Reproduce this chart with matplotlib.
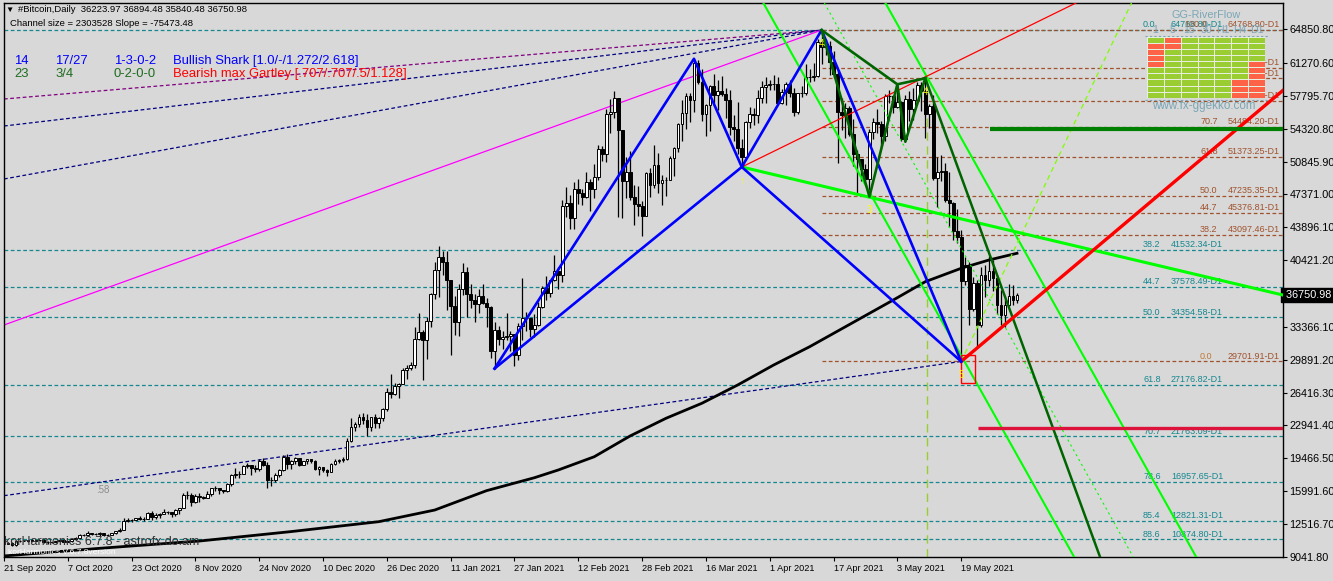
import numpy as np
import pandas as pd
import matplotlib
matplotlib.use('Agg')
import matplotlib.pyplot as plt
import matplotlib.transforms as mtransforms
from matplotlib.colors import ListedColormap
from matplotlib.lines import Line2D

plt.rcParams['font.family'] = ['Liberation Sans', 'DejaVu Sans']

# ==========  daily candles (thousands of USD), 21 Sep 2020 -> 2 Jun 2021
start_date = '2020-09-21'
first_open = 11.08
closes = [
    10.42, 10.53, 10.24, 10.74, 10.69, 10.73, 10.77, 10.69, 10.84, 10.78,
    10.62, 10.57, 10.55, 10.67, 10.79, 10.60, 10.67, 10.92, 11.06, 11.30,
    11.38, 11.55, 11.43, 11.43, 11.50, 11.32, 11.37, 11.50, 11.75, 11.92,
    12.82, 12.97, 12.93, 13.11, 13.03, 13.07, 13.64, 13.27, 13.46, 13.56, 13.80,
    13.74, 13.55, 14.02, 14.15, 15.59, 15.58, 14.83, 15.48, 15.33, 15.30,
    15.70, 16.28, 16.32, 16.07, 15.96, 16.72, 17.65, 17.80, 17.82, 18.68,
    18.70, 18.41, 18.37, 19.16, 18.72, 17.15, 17.14, 17.72, 18.18, 19.63,
    18.80, 19.20, 19.45, 18.70, 19.15, 19.36, 19.17, 18.32, 18.55, 18.26,
    18.04, 18.80, 19.14, 19.25, 19.43, 21.30, 22.80, 23.13, 23.85, 23.48,
    22.75, 23.82, 23.24, 23.73, 24.71, 26.44, 26.27, 27.08, 27.36, 28.84, 29.00,
    29.37, 32.13, 32.78, 31.97, 33.99, 36.82, 39.37, 40.80, 40.25, 38.35,
    35.54, 33.92, 37.32, 39.19, 36.83, 36.18, 35.79, 36.63, 35.89, 35.47,
    30.83, 33.00, 32.08, 32.28, 32.37, 32.57, 30.43, 33.47, 34.32, 34.27, 33.11,
    33.52, 35.51, 37.47, 36.93, 38.29, 39.26, 38.90, 46.20, 46.48, 44.92,
    47.91, 47.50, 47.10, 48.72, 47.94, 49.20, 52.15, 51.68, 55.89, 56.10,
    57.54, 54.21, 48.82, 49.71, 47.08, 46.34, 46.19, 45.14,
    49.63, 48.38, 50.54, 48.56, 48.93, 48.91, 51.21, 52.30, 54.88, 55.96,
    57.80, 57.33, 61.24, 59.30, 55.91, 56.80, 58.87, 57.86, 58.35, 58.03,
    57.35, 54.53, 54.34, 52.30, 51.30, 55.03, 55.86, 55.78, 57.63, 58.73, 58.92,
    59.10, 59.03, 57.10, 58.20, 59.10, 58.13, 56.05, 58.10, 58.13, 59.77,
    59.80, 59.89, 63.50, 62.97, 63.11, 61.38, 60.10, 56.15, 55.75, 56.50,
    53.80, 51.70, 51.09, 50.05, 49.00, 54.02, 55.03, 54.82, 53.56, 57.75,
    57.83, 56.63, 57.21, 53.24, 57.47, 56.43, 57.38, 58.93, 58.28, 55.86,
    56.75, 49.15, 49.72, 49.88, 46.76, 46.43, 43.54, 42.91,
    38.20, 39.90, 35.30, 38.00, 33.60, 38.80, 38.30, 39.30, 38.50, 35.70,
    34.60, 35.70, 36.60, 36.22397, 36.75098,
]
highs = [
    11.10, 10.58, 10.55, 10.77, 10.76, 10.79, 10.80, 10.95, 10.86, 10.85,
    10.92, 10.67, 10.60, 10.70, 10.80, 10.80, 10.68, 10.95, 11.10, 11.49,
    11.43, 11.72, 11.56, 11.55, 11.63, 11.54, 11.40, 11.50, 11.80, 12.03,
    13.18, 13.16, 13.02, 13.16, 13.34, 13.24, 13.76, 13.86, 13.63, 13.66, 14.07,
    13.86, 13.81, 14.07, 14.23, 15.75, 15.96, 15.77, 15.65, 15.83, 15.48,
    15.96, 16.34, 16.48, 16.33, 16.15, 16.80, 17.80, 18.39, 18.11, 18.79,
    18.95, 18.75, 18.77, 19.42, 19.48, 19.06, 17.46, 17.88, 18.30, 19.77,
    19.92, 19.31, 19.56, 19.52, 19.17, 19.41, 19.42, 19.29, 18.64, 18.56,
    18.27, 18.95, 19.41, 19.34, 19.56, 21.56, 23.77, 23.26, 24.17, 24.30,
    24.10, 23.84, 24.09, 23.79, 24.79, 26.87, 28.42, 27.41, 27.37, 28.99, 29.30,
    29.60, 33.30, 34.78, 33.00, 34.44, 36.94, 40.18, 41.95, 41.35, 41.42,
    38.26, 36.60, 37.85, 40.10, 39.70, 37.95, 36.85, 37.40, 37.85, 36.42,
    35.60, 33.83, 33.45, 32.94, 34.88, 32.97, 32.55, 33.78, 38.53, 34.93, 34.34,
    34.72, 35.98, 37.66, 38.70, 38.31, 40.95, 39.70, 46.80, 48.20, 47.30,
    48.68, 48.97, 48.00, 49.70, 49.00, 50.60, 52.62, 52.53, 56.37, 57.50,
    58.35, 57.53, 54.20, 51.35, 52.00, 48.37, 48.30, 46.64,
    49.80, 50.20, 52.64, 51.80, 49.45, 49.20, 51.45, 52.40, 54.90, 57.40,
    58.15, 58.06, 61.73, 61.60, 60.65, 56.90, 58.98, 60.10, 59.45, 59.88,
    58.59, 58.42, 55.83, 57.20, 53.23, 55.10, 56.58, 56.56, 58.40, 59.37, 59.80,
    59.47, 60.05, 59.80, 58.50, 59.25, 59.50, 58.65, 58.15, 58.90, 61.20,
    60.68, 61.30, 63.80, 64.77, 63.80, 63.60, 62.60, 60.40, 57.60, 57.05,
    56.75, 55.41, 52.12, 51.17, 50.55, 54.35, 55.46, 56.43, 55.20, 58.00,
    58.46, 57.95, 59.03, 57.25, 57.94, 58.36, 58.65, 59.30, 59.25, 59.67,
    56.90, 57.95, 51.30, 51.55, 50.70, 49.70, 46.60, 45.82,
    43.60, 40.80, 40.20, 38.60, 38.30, 39.70, 39.90, 40.90, 40.40, 38.90,
    37.30, 36.30, 37.90, 37.80, 36.89448,
]
lows = [
    10.36, 10.37, 10.15, 10.22, 10.60, 10.67, 10.64, 10.66, 10.66, 10.67,
    10.45, 10.37, 10.50, 10.49, 10.64, 10.55, 10.58, 10.64, 10.82, 11.01,
    11.22, 11.25, 11.31, 11.29, 11.27, 11.22, 11.30, 11.35, 11.40, 11.69,
    11.90, 12.68, 12.73, 12.90, 12.91, 12.80, 13.05, 12.94, 12.99, 13.12, 13.64,
    13.61, 13.22, 13.30, 13.55, 14.15, 15.20, 14.42, 14.70, 14.85, 15.10,
    15.30, 15.44, 15.99, 15.72, 15.80, 15.87, 16.53, 17.34, 17.40, 17.76,
    18.38, 17.66, 18.03, 18.08, 18.62, 16.33, 16.50, 16.90, 17.50, 18.13,
    18.33, 18.33, 18.86, 18.59, 18.70, 18.89, 19.00, 18.20, 17.65, 18.03,
    17.57, 18.00, 18.73, 19.00, 19.05, 19.27, 21.22, 22.35, 22.75, 23.07,
    21.82, 22.35, 22.62, 22.70, 23.43, 24.50, 25.80, 26.10, 25.82, 27.32, 27.85,
    28.80, 29.00, 32.00, 27.73, 30.00, 33.40, 36.30, 36.50, 38.80, 35.11,
    30.42, 32.53, 32.38, 36.70, 34.40, 35.36, 33.85, 34.80, 35.80, 33.40,
    30.07, 28.95, 31.42, 31.00, 31.98, 30.83, 29.24, 29.85, 31.98, 32.88, 32.30,
    32.28, 33.42, 35.39, 36.16, 36.57, 38.20, 37.35, 38.06, 45.00, 43.73,
    43.70, 46.40, 46.30, 47.00, 45.60, 47.00, 48.95, 50.90, 50.80, 53.90,
    55.48, 45.00, 44.90, 47.00, 46.80, 44.15, 45.07, 43.00,
    45.12, 47.07, 48.10, 47.50, 46.30, 47.20, 48.90, 49.30, 51.84, 53.05,
    54.27, 55.04, 56.10, 59.04, 55.12, 53.55, 54.10, 57.02, 56.28, 57.80,
    55.45, 53.65, 53.00, 51.70, 50.28, 51.30, 54.45, 54.70, 54.90, 57.05, 57.00,
    58.42, 58.45, 57.00, 56.96, 56.80, 57.65, 55.70, 55.90, 57.70, 57.90,
    59.30, 59.40, 59.80, 61.20, 62.10, 60.00, 59.70, 50.70, 54.20, 53.40,
    53.60, 50.40, 47.50, 48.80, 48.75, 47.10, 53.22, 53.88, 52.33, 53.02,
    57.05, 56.04, 56.48, 53.00, 52.96, 55.20, 55.25, 56.90, 56.24, 53.40,
    54.40, 48.90, 46.00, 48.80, 46.60, 43.90, 42.60, 42.25,
    29.70191, 37.80, 33.60, 35.00, 31.20, 33.40, 36.50, 37.70, 37.20, 34.70,
    33.60, 33.40, 35.60, 35.70, 35.84048,
]

# moving average
ma_days = [0, 24, 49, 72, 94, 108, 121, 133, 139, 148, 157, 166, 175, 184,
           193, 202, 211, 223, 231, 240, 247, 254]
ma_vals = [9120, 9930, 10700, 11700, 12750, 13980, 16030, 17400, 18220, 19620,
           21820, 23690, 25280, 27220, 29330, 31260, 33380, 36210, 38140,
           39560, 40440, 41150]

# harmonic patterns: X, A, B, C, D as (day index, price)
shark_days = [123, 173, 185, 205, 240]
shark_prices = [28950, 61730, 50280, 64768.80, 29701.91]
gartley_days = [205, 217, 224, 226, 231]
gartley_prices = [64768.80, 47140, 59030, 52960, 59670]

# fibonacci levels
teal_levels = [0.0, 38.2, 44.7, 50.0, 61.8, 70.7, 78.6, 85.4, 88.6]
teal_prices = [64768.80, 41532.34, 37578.49, 34354.58, 27176.82, 21763.09,
               16957.65, 12821.31, 10874.80]
brown_levels = [0.0, 38.2, 44.7, 50.0, 61.8, 70.7, 78.6, 85.4, 88.6, 100.0]
brown_prices = [29701.91, 43097.46, 45376.81, 47235.35, 51373.25, 54484.20,
                57264.49, 59649.03, 60771.17, 64768.80]

# trend lines (day, price) pairs
magenta_line = [(0, 33560), (205, 64768.80)]
purple_line = [(0, 57475), (205, 64768.80)]
navy_lines = [[(0, 54617), (205, 64768.80)], [(0, 49009), (205, 64768.80)]]
navy_low_line = [(0, 15500), (240, 29701.91)]
lime_a = [(190.4, 67640), (268.3, 9041.8)]
lime_b = [(221.0, 67640), (298.9, 9041.8)]
lime_dotted = [(205.7, 67640), (283.1, 9041.8)]
chartreuse_dashed = [(240, 29701.91), (282.7, 67640)]
green_thick = [(185, 50280), (321, 36700)]
red_thin = [(185, 50280), (268.8, 67640)]
red_thick = [(240, 29701.91), (321, 58500)]
darkgreen_proj = [(231, 59670), (274.8, 9041.8)]
crimson_level = (244.3, 22690)
green_level = (247.3, 54280)
prz_box = (240, 27430, 243.4, 30390)

yticks_vals = [9041.80, 12516.70, 15991.60, 19466.50, 22941.40, 26416.30,
               29891.20, 33366.10, 40421.20, 43896.10, 47371.00, 50845.90,
               54320.80, 57795.70, 61270.60, 64850.80]

# RiverFlow grid: columns 1 5 15 30 H1 H4 D1, 1 = red cell
rf_cols = ['1', '5', '15', '30', 'H1', 'H4', 'D1']
rf_state = [
    [0, 1, 0, 0, 0, 0, 0],
    [1, 1, 0, 0, 0, 0, 0],
    [1, 0, 0, 0, 0, 0, 0],
    [1, 0, 0, 0, 0, 0, 0],
    [1, 0, 0, 0, 0, 0, 1],
    [0, 0, 0, 0, 0, 0, 1],
    [0, 0, 0, 0, 0, 0, 1],
    [0, 0, 0, 0, 0, 1, 1],
    [0, 0, 0, 0, 0, 1, 1],
    [0, 0, 0, 0, 0, 1, 1],
]

# ==========
W, H = 1333, 581
BG = '#d8d8d8'
TEAL = '#14878f'
BROWN = '#a0522d'

closes_a = np.array(closes) * 1000
highs_a = np.array(highs) * 1000
lows_a = np.array(lows) * 1000
opens_a = np.array([first_open] + closes[:-1]) * 1000
highs_a = np.maximum(highs_a, np.maximum(opens_a, closes_a))
lows_a = np.minimum(lows_a, np.minimum(opens_a, closes_a))
days = np.arange(len(closes_a))
dates = pd.date_range(start_date, periods=len(closes_a), freq='D')

fig = plt.figure(figsize=(W / 100, H / 100), dpi=100, facecolor=BG)
ax = fig.add_axes([4 / W, 1 - 556.7 / H, 1279 / W, 553.7 / H], facecolor=BG)
XMIN, XMAX = 0.15, 320.7
YMIN, YMAX = 9041.8, 67634
ax.set_xlim(XMIN, XMAX)
ax.set_ylim(YMIN, YMAX)


def fpx(x, y):
    return x / W, 1 - y / H


# === fib levels
for lvl, p in zip(teal_levels, teal_prices):
    ax.axhline(p, color=TEAL, lw=0.9, ls=(0, (3, 2)), zorder=1)
    ax.annotate(f'{lvl:.1f}', (285.6, p), xytext=(0, 0.6), textcoords='offset points',
                color=TEAL, fontsize=6.5, va='bottom', ha='left')
    ax.annotate(f'{p:.2f}-D1', (292.6, p), xytext=(0, 0.6), textcoords='offset points',
                color=TEAL, fontsize=6.5, va='bottom', ha='left')
for lvl, p in zip(brown_levels, brown_prices):
    ax.hlines(p, shark_days[3], XMAX, color=BROWN, lw=0.9, ls=(0, (3, 2)), zorder=1)
    lx = 299.9 if lvl < 100 else 296.0
    ax.annotate(f'{lvl:.1f}', (lx, p), xytext=(0, 0.6), textcoords='offset points',
                color='#c07838' if lvl == 0 else BROWN, fontsize=6.5, va='bottom', ha='left')
    ax.annotate(f'{p:.2f}-D1', (306.9, p), xytext=(0, 0.6), textcoords='offset points',
                color=BROWN, fontsize=6.5, va='bottom', ha='left')

# === long dashed fans to the April top
for (x0, y0), (x1, y1) in [purple_line]:
    ax.plot([x0, x1], [y0, y1], color='#800080', lw=0.9, ls=(0, (3, 2)), zorder=2)
for (x0, y0), (x1, y1) in navy_lines + [navy_low_line]:
    ax.plot([x0, x1], [y0, y1], color='#000080', lw=0.9, ls=(0, (3, 2)), zorder=2)
ax.plot(*zip(*magenta_line), color='#ff00ff', lw=0.9, zorder=2)
ax.text(23.0, 16100, '.58', color='#8c8c8c', fontsize=7, ha='left', va='center')

# === candles
up = closes_a >= opens_a
ax.vlines(days, lows_a, highs_a, color='black', lw=0.9, zorder=3)
ax.bar(days[up], closes_a[up] - opens_a[up], bottom=opens_a[up], width=0.7,
       color='white', edgecolor='black', linewidth=0.7, zorder=4)
ax.bar(days[~up], closes_a[~up] - opens_a[~up], bottom=opens_a[~up], width=0.7,
       color='black', edgecolor='black', linewidth=0.7, zorder=4)

# === moving average
ax.plot(ma_days, ma_vals, color='black', lw=2, zorder=5, solid_joinstyle='round')

# === channels and trend lines
ax.vlines(231.5, YMIN, gartley_prices[4], colors='#9acd32', lw=1, linestyles=(0, (6, 4)), zorder=2)
ax.plot(*zip(*lime_a), color='#00ff00', lw=1.5, zorder=6)
ax.plot(*zip(*lime_b), color='#00ff00', lw=1.5, zorder=6)
ax.plot(*zip(*lime_dotted), color='#00ff00', lw=0.8, ls=(0, (2, 3)), zorder=6)
ax.plot(*zip(*chartreuse_dashed), color='#7fff00', lw=0.9, ls=(0, (4, 3)), zorder=6)
ax.plot(*zip(*green_thick), color='#00ff00', lw=2.2, zorder=6)
ax.plot(*zip(*red_thin), color='#ff0000', lw=0.9, zorder=6)
ax.plot(*zip(*red_thick), color='#ff0000', lw=2.4, zorder=7)
ax.plot(*zip(*darkgreen_proj), color='#006400', lw=1.8, zorder=6)
ax.hlines(crimson_level[1], crimson_level[0], XMAX, color='#dc143c', lw=2.4, zorder=7)
ax.hlines(green_level[1], green_level[0], XMAX, color='#008000', lw=3, zorder=7)
bx0, by0, bx1, by1 = prz_box
ax.add_patch(plt.Rectangle((bx0, by0), bx1 - bx0, by1 - by0, fill=False,
                           edgecolor='#ff0000', lw=1, zorder=7))

# === harmonic patterns
sx, sp = shark_days, shark_prices
ax.plot(sx, sp, color='#0000ff', lw=1.9, zorder=8)
ax.plot([sx[0], sx[2], sx[4]], [sp[0], sp[2], sp[4]], color='#0000ff', lw=1.9, zorder=8)
gx, gp = gartley_days, gartley_prices
ax.plot(gx, gp, color='#006400', lw=1.9, zorder=8)
ax.plot([gx[0], gx[2], gx[4]], [gp[0], gp[2], gp[4]], color='#006400', lw=1.9, zorder=8)
for x, p, s in [(sx[2], sp[2] - 900, '\u2191'), (sx[3], sp[3] - 900, '4'),
                (gx[1], gp[1] - 900, '3'), (gx[4], gp[4] - 900, '4'), (sx[4], sp[4] - 900, '5')]:
    ax.text(x, p, s, color='yellow', fontsize=7, ha='center', va='top', zorder=9)

# === axes cosmetics
for sp_ in ax.spines.values():
    sp_.set_color('black')
    sp_.set_linewidth(1)
ax.yaxis.tick_right()
ax.set_yticks(yticks_vals)
ax.set_yticklabels([f'{v:.2f}' for v in yticks_vals])
ax.tick_params(axis='y', direction='out', length=3, pad=1.5, labelsize=7.8, width=0.8)
xt = list(range(0, len(dates), 16))
ax.set_xticks(xt)
ax.set_xticklabels([f'{dates[i].day} {dates[i].strftime("%b %Y")}' for i in xt],
                   ha='left', fontsize=6.6)
ax.tick_params(axis='x', direction='out', length=3, pad=2.5, width=0.8)

last = closes_a[-1]
tr = mtransforms.blended_transform_factory(ax.transAxes, ax.transData)
ax.text(1.0, last, f' {last:.2f}', transform=tr, ha='left', va='center', color='white',
        fontsize=7.8, bbox=dict(boxstyle='square,pad=0.18', fc='black', ec='black'))

# === header texts
fig.text(*fpx(5, 10), '\u25bc', fontsize=6, va='center', ha='left')
fig.text(*fpx(18, 10), '#Bitcoin,Daily  36223.97 36894.48 35840.48 36750.98',
         fontsize=6.8, va='center', ha='left')
fig.text(*fpx(10, 24), 'Channel size = 2303528 Slope = -75473.48',
         fontsize=6.8, va='center', ha='left')
for x, s in [(14, '14'), (55, '17/27'), (114, '1-3-0-2'),
             (173, 'Bullish Shark [1.0/-/1.272/2.618]')]:
    fig.text(*fpx(x, 61), s, color='#0000ff', fontsize=9.4, va='center', ha='left')
for x, s in [(14, '23'), (55, '3/4'), (114, '0-2-0-0')]:
    fig.text(*fpx(x, 74), s, color='#1e6b1e', fontsize=9.4, va='center', ha='left')
fig.text(*fpx(173, 74), 'Bearish max Gartley [.707/.707/.5/1.128]', color='#ff0000',
         fontsize=9.4, va='center', ha='left')
fig.text(*fpx(4, 542), 'korHarmonics 6.7.8 - astrofx.do.am', color='#303030',
         fontsize=9, va='center', ha='left')
fig.text(*fpx(8, 553), 'korHarmonics V.6.7.8version', color='white',
         fontsize=6, va='center', ha='left')

# === RiverFlow panel
RF = '#7aa6b6'
gx0, gx1, gy0, gy1 = 1147, 1265, 36.7, 97.7
rf = fig.add_axes([gx0 / W, 1 - gy1 / H, (gx1 - gx0) / W, (gy1 - gy0) / H])
rf.pcolormesh(np.array(rf_state), cmap=ListedColormap(['#9acd32', '#ff6347']),
              edgecolors='#e8eede', linewidth=0.6, vmin=0, vmax=1)
rf.invert_yaxis()
rf.axis('off')
fig.text(*fpx(1206, 15), 'GG-RiverFlow', color=RF, fontsize=7.8, ha='center', va='center')
cw = (gx1 - gx0) / len(rf_cols)
for i, c in enumerate(rf_cols):
    fig.text(*fpx(gx0 + cw * (i + 0.5), 30), c, color=RF, fontsize=7.6, ha='center', va='center')
for yy in (36, 100):
    fig.add_artist(Line2D([1145 / W, 1268 / W], [1 - yy / H, 1 - yy / H],
                          transform=fig.transFigure, color=RF, lw=0.8, ls=(0, (2, 2))))
fig.text(*fpx(1204, 106), 'www.fx-ggekko.com', color=RF, fontsize=8.4, ha='center', va='center')

fig.savefig('out.png', dpi=100, facecolor=BG)
